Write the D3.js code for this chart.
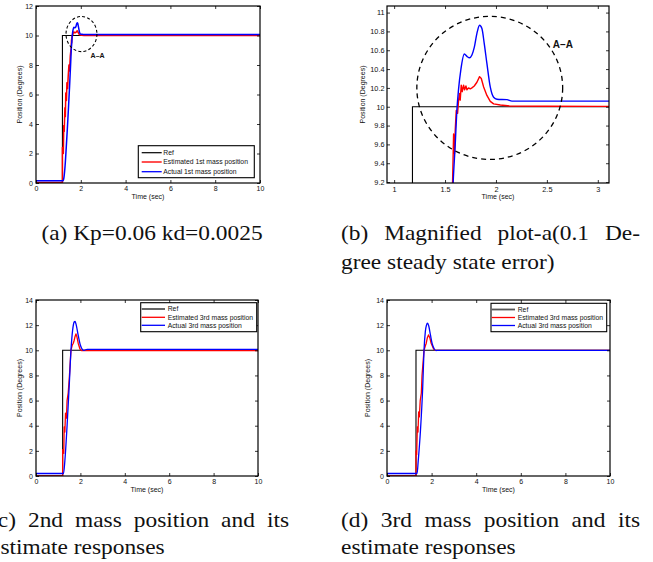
<!DOCTYPE html>
<html><head><meta charset="utf-8">
<script src="https://cdn.jsdelivr.net/npm/d3@7/dist/d3.min.js"></script>
<style>body{margin:0;background:#fff}svg{display:block}</style>
</head><body><svg id="fig" width="653" height="562"></svg>
<script>
// ---------- data ----------
const ref1T = [0, 1.18, 1.18, 10];
const ref1V = [0, 0, 10, 10];
const est1T = [0, 1.18, 1.18, 1.22, 1.24, 1.26, 1.29, 1.31, 1.33, 1.36, 1.38, 1.41, 1.44, 1.47, 1.5, 1.53, 1.55, 1.574, 1.584, 1.593, 1.6, 1.61, 1.623, 1.633, 1.643, 1.649, 1.659, 1.669, 1.682, 1.692, 1.705, 1.715, 1.731, 1.748, 1.764, 1.787, 1.813, 1.839, 1.856, 1.879, 1.911, 1.944, 1.977, 2.043, 2.141, 2.5, 3.0, 10];
const est1V = [0.03, 0.03, 2.4, 2.0, 3.9, 3.5, 5.1, 4.5, 6.1, 5.6, 6.8, 6.4, 7.3, 8.0, 7.6, 8.6, 8.9, 9.2, 9.71, 9.5, 9.75, 9.96, 9.93, 10.07, 10.14, 10.07, 10.23, 10.16, 10.23, 10.18, 10.22, 10.18, 10.2, 10.19, 10.2, 10.22, 10.26, 10.32, 10.30, 10.21, 10.12, 10.057, 10.03, 10.018, 10.007, 10.005, 10.004, 10.0];
const act1T = [0, 1.21, 1.25, 1.3, 1.35, 1.4, 1.45, 1.5, 1.55, 1.58, 1.6, 1.616, 1.633, 1.656, 1.689, 1.715, 1.741, 1.764, 1.787, 1.813, 1.839, 1.862, 1.885, 1.911, 1.944, 1.977, 2.01, 2.108, 2.157, 10];
const act1V = [0.15, 0.15, 0.4, 1.2, 2.4, 3.7, 5.1, 6.6, 8.2, 9.2, 9.6, 9.96, 10.19, 10.40, 10.56, 10.535, 10.52, 10.55, 10.63, 10.78, 10.865, 10.83, 10.67, 10.46, 10.21, 10.10, 10.08, 10.075, 10.06, 10.06];

const ref2T = [0, 1.2, 1.2, 10];
const ref2V = [0, 0, 10, 10];
const est2T = [0, 1.2, 1.2, 1.25, 1.27, 1.3, 1.33, 1.37, 1.4, 1.45, 1.5, 1.575, 1.63, 1.68, 1.72, 1.76, 1.8, 1.84, 1.9, 1.98, 2.05, 10];
const est2V = [0, 0, 2.1, 1.8, 3.9, 3.5, 5.0, 4.6, 6.0, 6.6, 7.8, 10.0, 10.4, 10.56, 10.8, 11.1, 11.3, 11.1, 10.56, 10.1, 9.98, 9.98];
const act2T = [0, 1.24, 1.3, 1.4, 1.5, 1.575, 1.65, 1.72, 1.76, 1.8, 1.9, 2.0, 2.1, 2.16, 2.3, 10];
const act2V = [0.2, 0.2, 1.2, 4.0, 7.3, 10.0, 11.6, 12.25, 12.3, 12.1, 11.2, 10.4, 10.05, 10.0, 10.08, 10.08];

const ref3T = [0, 1.3, 1.3, 10];
const ref3V = [0, 0, 10, 10];
const est3T = [0, 1.3, 1.3, 1.33, 1.36, 1.39, 1.42, 1.45, 1.49, 1.54, 1.57, 1.66, 1.71, 1.76, 1.81, 1.86, 1.92, 1.98, 2.09, 2.16, 10];
const est3V = [0, 0, 2.0, 1.7, 3.9, 3.5, 5.1, 4.7, 6.0, 6.6, 7.97, 10.0, 10.3, 10.56, 11.0, 11.22, 11.0, 10.56, 10.1, 10.0, 10.0];
const act3T = [0, 1.35, 1.4, 1.5, 1.6, 1.66, 1.72, 1.77, 1.82, 1.87, 1.95, 2.03, 2.12, 2.2, 2.26, 10];
const act3V = [0.2, 0.2, 1.2, 3.6, 7.0, 10.0, 11.5, 12.0, 12.16, 11.95, 11.2, 10.5, 10.1, 9.98, 10.0, 10.0];

const xTicksFull = [0, 2, 4, 6, 8, 10];
const yTicksA = [0, 2, 4, 6, 8, 10, 12];
const yTicksC = [0, 2, 4, 6, 8, 10, 12, 14];
const xTicksB = [1, 1.5, 2, 2.5, 3];
const yTicksB = [9.2, 9.4, 9.6, 9.8, 10, 10.2, 10.4, 10.6, 10.8, 11];

const legendA = ["Ref", "Estimated 1st mass position", "Actual 1st mass position"];
const legendC = ["Ref", "Estimated 3rd mass position", "Actual 3rd mass position"];
const xLabel = "Time (sec)";
const yLabel = "Position (Degrees)";
const captionA = ["(a) Kp=0.06 kd=0.0025"];
const captionB = ["(b) Magnified plot-a(0.1 De-", "gree steady state error)"];
const captionC = ["(c) 2nd mass position and its", "estimate responses"];
const captionD = ["(d) 3rd mass position and its", "estimate responses"];

// ---------- drawing ----------
const svg = d3.select("#fig");
const zip = (T, V) => T.map((t, i) => [t, V[i]]);
const SANS = "'Liberation Sans', Arial, Helvetica, sans-serif";

const panels = [
  { id: "a", l: 36, r: 260, t: 6, b: 183, xd: [0, 10], yd: [0, 12], xt: xTicksFull, yt: yTicksA,
    ref: zip(ref1T, ref1V), est: zip(est1T, est1V), act: zip(act1T, act1V),
    lw: 1.5, tickFs: 7, ylabX: 20, tpadL: 3,
    legend: { items: legendA, x0: 138.3, x1: 254.3, y0: 145.7, y1: 177.7, rows: [152.7, 162, 171.7], s0: 141.7, s1: 161.7, tx: 163.3,
              colors: ["#000", "#ff5050", "#0000ff"], widths: [1.2, 2, 1.3] },
    ellipse: { cx: 2.03, cy: 10.1, rx: 0.69, ry: 1.19, dash: "3,2.2", w: 1.1 },
    aa: { x: 2.75, y: 8.61, fs: 7 } },
  { id: "b", l: 387, r: 609, t: 6, b: 183, xd: [0.93, 3.11], yd: [9.19, 11.07], xt: xTicksB, yt: yTicksB,
    ref: zip(ref1T, ref1V), est: zip(est1T, est1V), act: zip(act1T, act1V),
    lw: 1.4, tickFs: 7.3, ylabX: 363, tpadL: 2.5,
    ellipse: { cx: 1.939, cy: 10.2, rx: 0.716, ry: 0.76, dash: "5,4", w: 1.3 },
    aa: { x: 2.657, y: 10.66, fs: 10 } },
  { id: "c", l: 36, r: 258, t: 300, b: 476, xd: [0, 10], yd: [0, 14], xt: xTicksFull, yt: yTicksC,
    ref: zip(ref2T, ref2V), est: zip(est2T, est2V), act: zip(act2T, act2V),
    lw: 1.3, tickFs: 7, ylabX: 20, tpadL: 3,
    legend: { items: legendC, x0: 140.7, x1: 256.7, y0: 302.7, y1: 331.7, rows: [309, 317.3, 325.3], s0: 141.7, s1: 165, tx: 167.7,
              colors: ["#555", "#ff0000", "#0000ff"], widths: [1.8, 1.3, 1.3] } },
  { id: "d", l: 387, r: 610, t: 300, b: 476, xd: [0, 10], yd: [0, 14], xt: xTicksFull, yt: yTicksC,
    ref: zip(ref3T, ref3V), est: zip(est3T, est3V), act: zip(act3T, act3V),
    lw: 1.3, tickFs: 7, ylabX: 368, tpadL: 3,
    legend: { items: legendC, x0: 491, x1: 606.7, y0: 303.3, y1: 331.7, rows: [309.5, 317.5, 325.5], s0: 491.7, s1: 515, tx: 517.7,
              colors: ["#555", "#ff0000", "#0000ff"], widths: [1.8, 1.3, 1.3] } }
];

const tickFmt = v => d3.format("~g")(v);

panels.forEach(p => {
  const g = svg.append("g");
  const x = d3.scaleLinear().domain(p.xd).range([p.l, p.r]);
  const y = d3.scaleLinear().domain(p.yd).range([p.b, p.t]);
  const cid = "clip-" + p.id;
  svg.append("clipPath").attr("id", cid).append("rect")
    .attr("x", p.l).attr("y", p.t).attr("width", p.r - p.l).attr("height", p.b - p.t);
  const plot = g.append("g").attr("clip-path", `url(#${cid})`);
  const lin = d3.line().x(d => x(d[0])).y(d => y(d[1]));
  const smooth = d3.line().x(d => x(d[0])).y(d => y(d[1])).curve(d3.curveMonotoneX);
  plot.append("path").attr("d", lin(p.ref)).attr("fill", "none").attr("stroke", "#000").attr("stroke-width", 1.1);
  plot.append("path").attr("d", lin(p.est)).attr("fill", "none").attr("stroke", "#ff0000").attr("stroke-width", p.lw).attr("stroke-linejoin", "round");
  plot.append("path").attr("d", smooth(p.act)).attr("fill", "none").attr("stroke", "#0000ff").attr("stroke-width", p.lw).attr("stroke-linejoin", "round");

  const styleAxis = sel => {
    sel.select(".domain").remove();
    sel.selectAll(".tick line").attr("stroke", "#000").attr("stroke-width", 0.8);
    sel.selectAll(".tick text").attr("font-family", SANS).attr("font-size", p.tickFs).attr("fill", "#111");
  };
  g.append("g").attr("transform", `translate(0,${p.b})`)
    .call(d3.axisBottom(x).tickValues(p.xt).tickSizeInner(-3).tickSizeOuter(0).tickPadding(3.5).tickFormat(tickFmt)).call(styleAxis);
  g.append("g").attr("transform", `translate(0,${p.t})`)
    .call(d3.axisTop(x).tickValues(p.xt).tickSizeInner(-3).tickSizeOuter(0).tickFormat("")).call(styleAxis);
  g.append("g").attr("transform", `translate(${p.l},0)`)
    .call(d3.axisLeft(y).tickValues(p.yt).tickSizeInner(-3).tickSizeOuter(0).tickPadding(p.tpadL).tickFormat(tickFmt)).call(styleAxis);
  g.append("g").attr("transform", `translate(${p.r},0)`)
    .call(d3.axisRight(y).tickValues(p.yt).tickSizeInner(-3).tickSizeOuter(0).tickFormat("")).call(styleAxis);

  g.append("rect").attr("x", p.l).attr("y", p.t).attr("width", p.r - p.l).attr("height", p.b - p.t)
    .attr("fill", "none").attr("stroke", "#000").attr("stroke-width", 1.2);

  g.append("text").attr("x", (p.l + p.r) / 2).attr("y", p.b + 14).attr("dy", "0.35em")
    .attr("text-anchor", "middle").attr("font-family", SANS).attr("font-size", 7).attr("fill", "#111").text(xLabel);
  g.append("text").attr("transform", `translate(${p.ylabX},${(p.t + p.b) / 2}) rotate(-90)`).attr("dy", "0.35em")
    .attr("text-anchor", "middle").attr("font-family", SANS).attr("font-size", 7).attr("fill", "#111").text(yLabel);

  if (p.ellipse) {
    const e = p.ellipse;
    g.append("ellipse").attr("cx", x(e.cx)).attr("cy", y(e.cy))
      .attr("rx", Math.abs(x(e.cx + e.rx) - x(e.cx))).attr("ry", Math.abs(y(e.cy + e.ry) - y(e.cy)))
      .attr("fill", "none").attr("stroke", "#000").attr("stroke-width", e.w).attr("stroke-dasharray", e.dash);
  }
  if (p.aa) {
    g.append("text").attr("x", x(p.aa.x)).attr("y", y(p.aa.y)).attr("dy", "0.35em").attr("text-anchor", "middle")
      .attr("font-family", SANS).attr("font-weight", "bold").attr("font-size", p.aa.fs).attr("fill", "#111").text("A\u2013A");
  }
  if (p.legend) {
    const L = p.legend;
    g.append("rect").attr("x", L.x0).attr("y", L.y0).attr("width", L.x1 - L.x0).attr("height", L.y1 - L.y0)
      .attr("fill", "#fff").attr("stroke", "#000").attr("stroke-width", 1.1);
    L.items.forEach((name, i) => {
      g.append("line").attr("x1", L.s0).attr("x2", L.s1).attr("y1", L.rows[i]).attr("y2", L.rows[i])
        .attr("stroke", L.colors[i]).attr("stroke-width", L.widths[i]);
      g.append("text").attr("x", L.tx).attr("y", L.rows[i]).attr("dy", "0.35em")
        .attr("font-family", SANS).attr("font-size", 6.8).attr("fill", "#111").text(name);
    });
  }
});

// ---------- captions ----------
const SERIF = "'Liberation Serif', 'Times New Roman', serif";
const capFs = 20;
const SX = 1.17; // widen Times to approximate Computer Modern proportions
function caption(lines, x0, width, y0, lh, centerSingle) {
  lines.forEach((ln, i) => {
    const yy = y0 + i * lh;
    if (centerSingle) {
      svg.append("text").attr("transform", `translate(${x0 + width / 2},${yy}) scale(${SX},1)`).attr("text-anchor", "middle")
        .attr("font-family", SERIF).attr("font-size", capFs).attr("fill", "#111").text(ln);
      return;
    }
    const g = svg.append("g").attr("transform", `translate(${x0},${yy}) scale(${SX},1)`);
    const justify = (i < lines.length - 1);
    if (!justify) {
      g.append("text").attr("x", 0).attr("y", 0).attr("font-family", SERIF).attr("font-size", capFs).attr("fill", "#111").text(ln);
      return;
    }
    const words = ln.split(" ");
    const ws = words.map(w => {
      const t = g.append("text").attr("font-family", SERIF).attr("font-size", capFs).text(w);
      const len = t.node().getComputedTextLength(); t.remove(); return len;
    });
    const gap = (width / SX - d3.sum(ws)) / (words.length - 1);
    let cx = 0;
    words.forEach((w, k) => {
      g.append("text").attr("x", cx).attr("y", 0).attr("font-family", SERIF).attr("font-size", capFs).attr("fill", "#111").text(w);
      cx += ws[k] + gap;
    });
  });
}
caption(captionA, 2, 300, 240, 29, true);
caption(captionB, 341, 299, 240, 29, false);
caption(captionC, -10, 299, 527, 27, false);
caption(captionD, 341, 299, 527, 27, false);
</script></body></html>
